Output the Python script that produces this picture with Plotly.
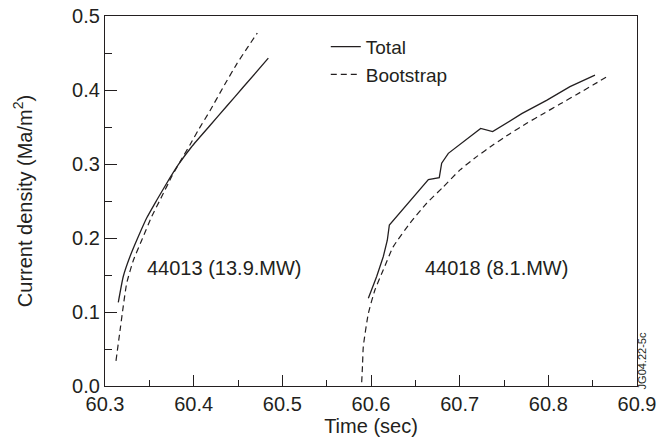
import plotly.graph_objects as go

# Shot 44013 (13.9 MW)
t_total_44013 = [60.315, 60.3206, 60.3282, 60.3376, 60.347, 60.3583, 60.3696, 60.3827, 60.3975,
                 60.4184, 60.4372, 60.456, 60.4842]
j_total_44013 = [0.113, 0.148, 0.175, 0.202, 0.227, 0.251, 0.274, 0.299, 0.323,
                 0.352, 0.378, 0.404, 0.443]
t_boot_44013 = [60.3124, 60.3175, 60.3205, 60.3245, 60.332, 60.3414, 60.3527, 60.364, 60.3752,
                60.3846, 60.3959, 60.4053, 60.4184, 60.4334, 60.4485, 60.4616, 60.4718]
j_boot_44013 = [0.034, 0.080, 0.107, 0.139, 0.170, 0.197, 0.229, 0.256, 0.283,
                0.303, 0.326, 0.346, 0.372, 0.404, 0.435, 0.459, 0.477]

# Shot 44018 (8.1 MW)
t_total_44018 = [60.597, 60.6064, 60.6139, 60.6184, 60.6207, 60.6647, 60.677, 60.6797, 60.6872,
                 60.7237, 60.7372, 60.77, 60.798, 60.8244, 60.8526]
j_total_44018 = [0.1185, 0.148, 0.175, 0.197, 0.2176, 0.279, 0.2815, 0.301, 0.3144,
                 0.348, 0.3437, 0.368, 0.386, 0.4045, 0.420]
t_boot_44018 = [60.5895, 60.5905, 60.5913, 60.597, 60.6045, 60.6139, 60.625, 60.644, 60.6628,
                60.6815, 60.7004, 60.7192, 60.7379, 60.7568, 60.7756, 60.7943, 60.8131, 60.832,
                60.8507, 60.8676]
j_boot_44018 = [0.005, 0.030, 0.053, 0.098, 0.130, 0.157, 0.188, 0.220, 0.247,
                0.269, 0.292, 0.310, 0.326, 0.341, 0.355, 0.368, 0.381, 0.394,
                0.407, 0.419]

labels = ["44013 (13.9.MW)", "44018 (8.1.MW)"]
label_x = [60.435, 60.741]
label_y = [0.159, 0.159]

FONT = "Liberation Sans, Arial, Helvetica, sans-serif"
ink = "#231f20"

fig = go.Figure()
fig.add_trace(go.Scatter(x=t_total_44013, y=j_total_44013, mode="lines", name="Total",
                         legendgroup="t", line=dict(color=ink, width=1.3, shape="spline", smoothing=0.5)))
fig.add_trace(go.Scatter(x=t_boot_44013, y=j_boot_44013, mode="lines", name="Bootstrap",
                         legendgroup="b", line=dict(color=ink, width=1.2, dash="6px,4px", shape="spline", smoothing=0.5)))
fig.add_trace(go.Scatter(x=t_total_44018, y=j_total_44018, mode="lines", name="Total",
                         legendgroup="t", showlegend=False, line=dict(color=ink, width=1.3)))
fig.add_trace(go.Scatter(x=t_boot_44018, y=j_boot_44018, mode="lines", name="Bootstrap",
                         legendgroup="b", showlegend=False,
                         line=dict(color=ink, width=1.2, dash="6px,4px", shape="spline", smoothing=0.5)))

for txt, x, y in zip(labels, label_x, label_y):
    fig.add_annotation(x=x, y=y, text=txt, showarrow=False, font=dict(size=20, color=ink, family=FONT))

fig.add_annotation(xref="paper", yref="paper", x=1.0, y=-0.016, text="JG04.22-5c", textangle=-90,
                   showarrow=False, xanchor="left", yanchor="bottom", xshift=-3,
                   font=dict(size=11, color=ink, family=FONT))

axis_common = dict(showline=True, linecolor=ink, linewidth=1.3, mirror=True, ticks="inside",
                   tickcolor=ink, showgrid=False, zeroline=False, automargin=False,
                   tickfont=dict(size=20, color=ink, family=FONT))

fig.update_xaxes(range=[60.3, 60.9], dtick=0.1, tick0=60.3, ticklen=11, tickwidth=1.2,
                 minor=dict(dtick=0.05, ticks="inside", ticklen=6, tickcolor=ink),
                 title=dict(text="Time (sec)", font=dict(size=20, color=ink, family=FONT), standoff=4),
                 **axis_common)
fig.update_yaxes(range=[0, 0.5], dtick=0.1, tickformat=".1f", ticklen=12, tickwidth=1.2,
                 minor=dict(dtick=0.05, ticks="inside", ticklen=7, tickcolor=ink),
                 title=dict(text="Current density (Ma/m<sup>2</sup>)", font=dict(size=20, color=ink, family=FONT), standoff=34),
                 **axis_common)

fig.update_layout(
    width=664, height=441,
    margin=dict(l=105, r=27, t=16, b=55),
    plot_bgcolor="white", paper_bgcolor="white",
    font=dict(family=FONT, color=ink),
    legend=dict(x=0.415, y=0.968, xanchor="left", yanchor="top", bgcolor="rgba(0,0,0,0)",
                font=dict(size=19, color=ink, family=FONT), tracegroupgap=0, itemwidth=30),
    showlegend=True,
)

fig.write_html("out.html", config={"displayModeBar": False},
               post_script="document.body.style.margin='0';document.body.style.overflow='hidden';")
